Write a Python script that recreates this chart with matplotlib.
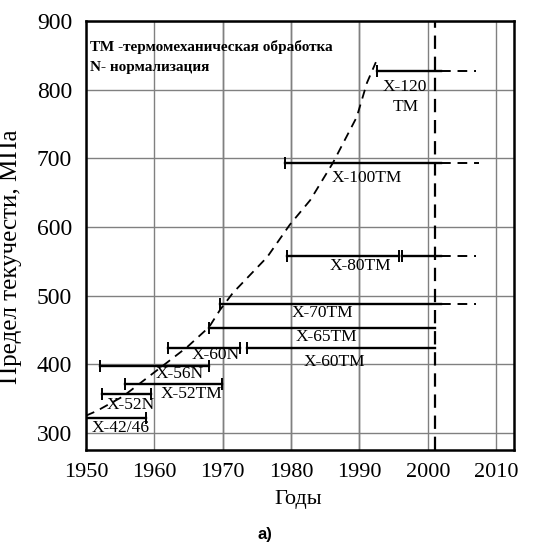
import numpy as np
import matplotlib.pyplot as plt

plt.rcParams["font.family"] = ["Liberation Serif", "DejaVu Serif"]

# grades: start year, end year (solid), yield strength level
grades = ["X-42/46", "X-52N", "X-52TM", "X-56N", "X-60N", "X-60TM",
          "X-65TM", "X-70TM", "X-80TM", "X-100TM", "X-120\nTM"]
start_year = [1950, 1952.3, 1955.7, 1952, 1962, 1973.5, 1968, 1969.6, 1979.4, 1979.1, 1992.5]
end_year = [1958.8, 1959.5, 1969.9, 1968, 1972.5, 2001, 2001, 2002, 2002, 2002, 2002]
strength = [322, 356, 371, 397, 423, 423, 453, 488, 557, 693, 827]
cap_end = [True, True, True, True, True, False, False, False, False, False, False]
forecast_end = [None, None, None, None, None, None, None, 2007, 2007, 2007.5, 2007]
break_year = [None, None, None, None, None, None, None, None, 1996, None, None]

label_x = [1955.0, 1956.6, 1965.4, 1963.7, 1969.0, 1986.4, 1985.2, 1984.6, 1990.1, 1991.1, 1996.7]
label_y = [307, 341, 357, 386, 414, 403, 440, 475, 543, 671, 789]

# trend curve
trend_year = [1950, 1951.6, 1955.4, 1961.8, 1964.8, 1968, 1969.6, 1971.5,
              1976.5, 1979.8, 1982.8, 1986.1, 1989.6, 1991.1, 1992.4]
trend_val = [325, 332, 353, 402, 425, 454, 479, 504, 556, 603, 639, 693, 760, 810, 840]

x_ticks = [1950, 1960, 1970, 1980, 1990, 2000, 2010]
y_ticks = [300, 400, 500, 600, 700, 800, 900]
current_year = 2001

fig = plt.figure(figsize=(5.36, 5.45), dpi=100)
ax = fig.add_axes([0.1604, 0.1743, 0.7985, 0.7872])
ax.set_xlim(1950, 2012.6)
ax.set_ylim(275, 900)
ax.set_xticks(x_ticks)
ax.set_yticks(y_ticks)
ax.tick_params(length=0, labelsize=16)
ax.tick_params(axis="y", labelsize=17)
ax.tick_params(axis="x", pad=9)
ax.tick_params(axis="y", pad=10)
ax.grid(color="0.5", linewidth=1.0)
for x in [1970, 1980, 1990]:
    ax.axvline(x, color="black", linewidth=0.9, zorder=1)
for s in ax.spines.values():
    s.set_linewidth(1.8)

ax.axvline(current_year, color="black", linestyle=(0, (6, 3.5)), linewidth=1.6, zorder=2)

ax.plot(trend_year, trend_val, color="black", linestyle=(0, (5, 3.5)), linewidth=1.3, zorder=3)

for i, g in enumerate(grades):
    y = strength[i]
    x0, x1 = start_year[i], end_year[i]
    if break_year[i] is not None:
        ax.plot([x0, break_year[i] - 0.2], [y, y], color="black", lw=1.7,
                marker="|", ms=9, mew=1.4, zorder=4)
        ax.plot([break_year[i] + 0.2, x1], [y, y], color="black", lw=1.7,
                marker="|", ms=9, mew=1.4, markevery=[0], zorder=4)
    else:
        ax.plot([x0, x1], [y, y], color="black", lw=1.7, marker="|", ms=9, mew=1.4,
                markevery=[0, 1] if cap_end[i] else [0], zorder=4)
    if forecast_end[i] is not None:
        ax.plot([x1, forecast_end[i]], [y, y], color="black", lw=1.4,
                linestyle=(0, (5, 3.5)), zorder=4)
    ax.text(label_x[i], label_y[i], g, fontsize=12.5, ha="center", va="center",
            linespacing=1.3, zorder=5)

ax.text(1950.6, 862, "ТМ -термомеханическая обработка", fontsize=11,
        fontweight="bold", ha="left", va="center")
ax.text(1950.6, 832, "N- нормализация", fontsize=11,
        fontweight="bold", ha="left", va="center")

ax.set_xlabel("Годы", fontsize=16)
ax.set_ylabel("Предел текучести, МПа", fontsize=18)
ax.xaxis.set_label_coords(0.495, -0.093)
ax.yaxis.set_label_coords(-0.15, 0.45)

fig.text(0.494, 0.005, "a)", fontsize=12, fontweight="bold",
         family="Liberation Sans", ha="center", va="bottom")

fig.savefig("out.png", dpi=100)
